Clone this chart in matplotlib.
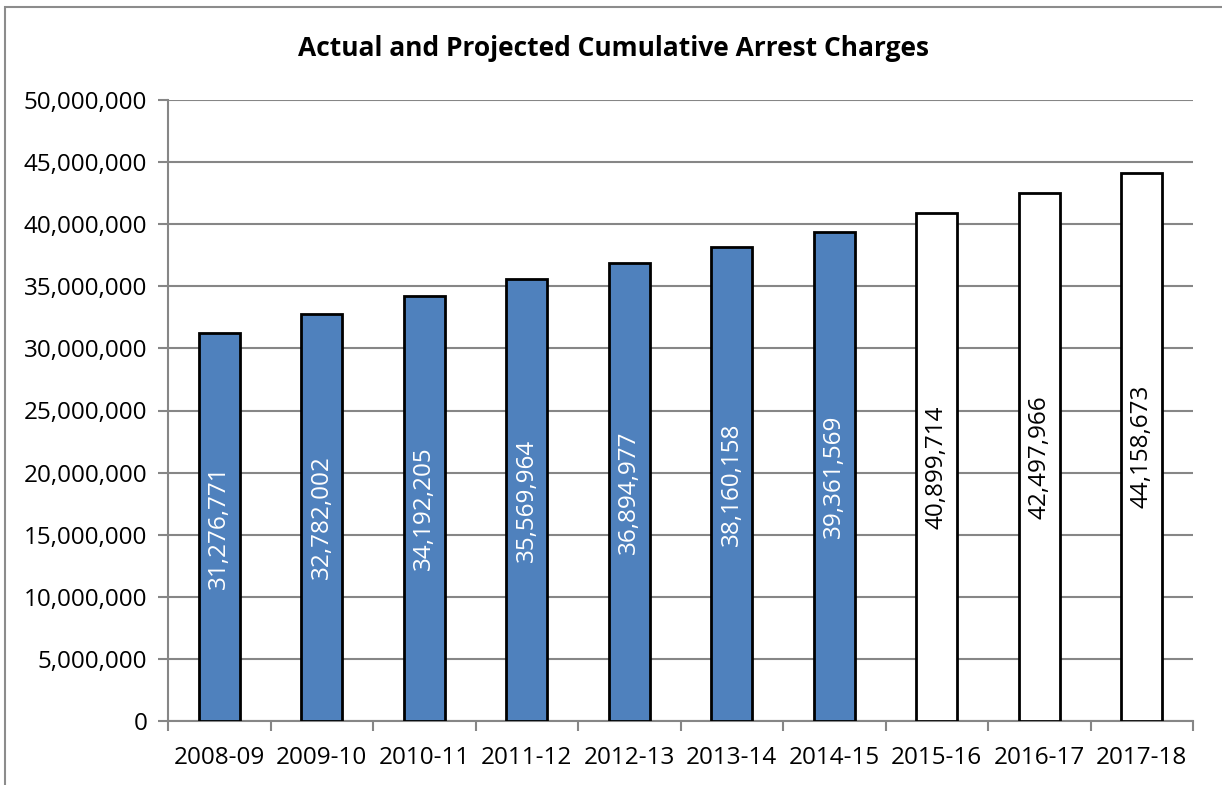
import matplotlib.pyplot as plt
from matplotlib.patches import Rectangle
from matplotlib.ticker import FuncFormatter, MultipleLocator

# -------------------------
# DATA
# -------------------------
years = ["2008-09", "2009-10", "2010-11", "2011-12", "2012-13",
         "2013-14", "2014-15", "2015-16", "2016-17", "2017-18"]
charges = [31276771, 32782002, 34192205, 35569964, 36894977,
           38160158, 39361569, 40899714, 42497966, 44158673]
projected = [False, False, False, False, False,
             False, False, True, True, True]

BLUE = "#4F81BD"
GRID = "#868686"
FS = 17.5

plt.rcParams["font.family"] = ["Open Sans", "DejaVu Sans"]

fig = plt.figure(figsize=(12.22, 7.85), dpi=100)
ax = fig.add_axes([168 / 1222, 1 - 721 / 785, (1193 - 168) / 1222, (721 - 100) / 785])

# outer chart border (right/bottom run off the image)
fig.patches.append(Rectangle((5 / 1222, -0.1), 1.2, 1 - 7 / 785 + 0.1,
                             transform=fig.transFigure, fill=False,
                             edgecolor="#8c8c8c", linewidth=1.5))

x = list(range(len(years)))
colors = ["white" if p else BLUE for p in projected]
bars = ax.bar(x, charges, width=0.4, color=colors, edgecolor="black",
              linewidth=2, zorder=3)

for xi, val, p in zip(x, charges, projected):
    ax.text(xi, val / 2, f"{val:,}", rotation=90, ha="center", va="center",
            fontsize=FS, color="black" if p else "white", zorder=4)

ax.set_xlim(-0.5, len(years) - 0.5)
ax.set_ylim(0, 50000000)
ax.yaxis.set_major_locator(MultipleLocator(5000000))
ax.yaxis.set_major_formatter(FuncFormatter(lambda v, _: f"{int(v):,}"))
ax.grid(axis="y", color=GRID, linewidth=1.5, zorder=0)

ax.set_xticks(x)
ax.set_xticklabels(years)
ax.set_xticks([i - 0.5 for i in range(len(years) + 1)], minor=True)
ax.tick_params(axis="x", which="major", length=0, pad=18, labelsize=FS)
ax.tick_params(axis="x", which="minor", length=7, width=1.5, color=GRID)
ax.tick_params(axis="y", length=7, width=1.5, color=GRID, pad=8, labelsize=FS)

for side in ["top", "right"]:
    ax.spines[side].set_visible(False)
for side in ["left", "bottom"]:
    ax.spines[side].set_color(GRID)
    ax.spines[side].set_linewidth(1.5)

fig.text(614 / 1222, 1 - 48 / 785, "Actual and Projected Cumulative Arrest Charges",
         ha="center", va="center", fontsize=19, fontweight="bold")

fig.savefig("out.png", dpi=100)
